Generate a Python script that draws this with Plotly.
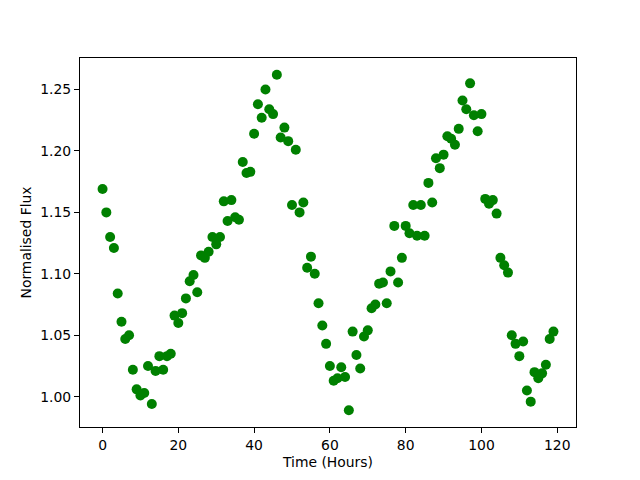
import plotly.graph_objects as go

hours = list(range(120))
flux = [
    1.169, 1.150, 1.130, 1.121, 1.084, 1.061, 1.047, 1.050, 1.022, 1.006,
    1.001, 1.003, 1.025, 0.994, 1.021, 1.033, 1.022, 1.033, 1.035, 1.066,
    1.060, 1.068, 1.080, 1.094, 1.099, 1.085, 1.115, 1.113, 1.118, 1.130,
    1.124, 1.130, 1.159, 1.143, 1.160, 1.146, 1.144, 1.191, 1.182, 1.183,
    1.214, 1.238, 1.227, 1.250, 1.234, 1.230, 1.262, 1.211, 1.219, 1.208,
    1.156, 1.201, 1.150, 1.158, 1.105, 1.114, 1.100, 1.076, 1.058, 1.043,
    1.025, 1.013, 1.015, 1.024, 1.016, 0.989, 1.053, 1.034, 1.023, 1.049,
    1.054, 1.072, 1.075, 1.092, 1.093, 1.076, 1.102, 1.139, 1.093, 1.113,
    1.139, 1.133, 1.156, 1.131, 1.156, 1.131, 1.174, 1.158, 1.194, 1.186,
    1.197, 1.212, 1.210, 1.205, 1.218, 1.241, 1.234, 1.255, 1.229, 1.216,
    1.230, 1.161, 1.157, 1.160, 1.149, 1.113, 1.107, 1.101, 1.050, 1.043,
    1.033, 1.045, 1.005, 0.996, 1.020, 1.015, 1.019, 1.026, 1.047, 1.053,
]
x_ticks = [0, 20, 40, 60, 80, 100, 120]
y_ticks = [1.00, 1.05, 1.10, 1.15, 1.20, 1.25]

xpad = (max(hours) - min(hours)) * 0.05
ypad = (max(flux) - min(flux)) * 0.05

fig = go.Figure(go.Scatter(
    x=hours, y=flux, mode="markers",
    marker=dict(color="#008000", size=10, line=dict(width=0)),
))

font = dict(family="DejaVu Sans", size=13.9, color="black")
axis_common = dict(
    showline=True, linecolor="black", linewidth=1, mirror=True,
    ticks="outside", ticklen=5, tickcolor="black", tickwidth=1,
    showgrid=False, zeroline=False, tickfont=font, automargin=False,
)
fig.update_layout(
    width=640, height=480,
    margin=dict(l=80, r=64, t=58, b=53),
    paper_bgcolor="white", plot_bgcolor="white",
    showlegend=False,
    xaxis=dict(range=[min(hours) - xpad, max(hours) + xpad],
               tickvals=x_ticks, ticktext=[str(v) for v in x_ticks],
               title=dict(text="Time (Hours)", font=font, standoff=5),
               **axis_common),
    yaxis=dict(range=[min(flux) - ypad, max(flux) + ypad],
               tickvals=y_ticks, ticktext=[f"{v:.2f}" for v in y_ticks],
               title=dict(text="Normalised Flux", font=font, standoff=5),
               **axis_common),
)
fig.write_html("out.html", config={"displayModeBar": False},
               post_script="document.body.style.margin='0';document.body.style.overflow='hidden';")
